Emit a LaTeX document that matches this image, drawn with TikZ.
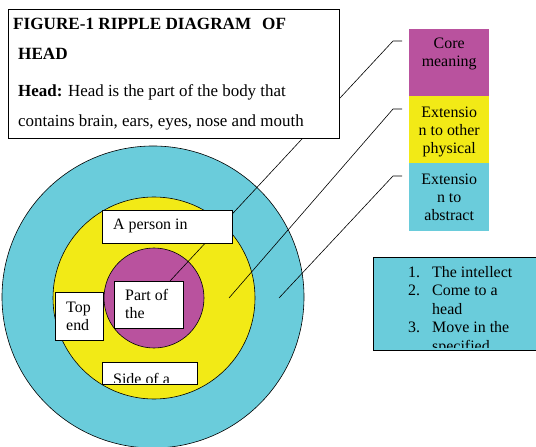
\documentclass[tikz,border=0pt]{standalone}
\usepackage{fontspec}
\setmainfont{Liberation Serif}
\usepackage{tikz}
\usepackage{xcolor}
\usetikzlibrary{positioning}

\definecolor{coremag}{RGB}{185,82,158}
\definecolor{physyel}{RGB}{242,234,22}
\definecolor{abscyan}{RGB}{106,204,219}

\tikzset{
    ring/.style={draw, circle, line width=0.6bp, inner sep=0pt},
    wbox/.style={draw, line width=0.6bp, fill=white, inner sep=0pt, anchor=north west},
    cbox/.style={inner sep=0pt, anchor=north west, minimum width=80bp},
    txt/.style={inner sep=0pt, anchor=base west, align=left, font=\fontsize{16}{17.5}\selectfont},
    ctxt/.style={inner sep=0pt, anchor=north, align=center, font=\fontsize{16}{18}\selectfont},
    lead/.style={line width=0.6bp}
}

\begin{document}
\begin{tikzpicture}[x=1bp, y=-1bp]
            \useasboundingbox (0,0) rectangle (536,447);

            % the three rings
            \node[ring, fill=abscyan, minimum size=302bp] (outer)  at (153,297) {};
            \node[ring, fill=physyel, minimum size=202bp] (middle) at (154,298) {};
            \node[ring, fill=coremag, minimum size=100bp] (inner)  at (154,298) {};

            % key on the right
            \node[cbox, fill=coremag, minimum height=67bp] (core)     at (409,29)  {};
            \node[cbox, fill=physyel, minimum height=67bp] (physical) at (409,96)  {};
            \node[cbox, fill=abscyan, minimum height=68bp] (abstract) at (409,163) {};
            \node[ctxt, below=9bp of core.north]      (coretext)     {Core\\meaning};
            \node[ctxt, below=11bp of physical.north] (physicaltext) {Extensio\\n to other\\physical};
            \node[ctxt, below=11bp of abstract.north] (abstracttext) {Extensio\\n to\\abstract};

            \coordinate (coretip)     at (402,41);
            \coordinate (physicaltip) at (402,109);
            \coordinate (abstracttip) at (402,176);
            \coordinate (coredot)     at (170,281);
            \coordinate (physicaldot) at (229,298);
            \coordinate (abstractdot) at (279,298);

            \draw[lead] (coretip) -- ++(-9,0) -- (coredot);
            \draw[lead] (physicaltip) -- ++(-9,0) -- (physicaldot);
            \draw[lead] (abstracttip) -- ++(-9,0) -- (abstractdot);

            % title and definition
            \node[wbox, minimum width=331bp, minimum height=129bp] (title) at (8,9) {};
            \node[txt, font=\fontsize{17.2}{18}\selectfont\bfseries] (titleline) at (13,30) {FIGURE-1 RIPPLE DIAGRAM\hspace{11bp}OF};
            \node[txt, font=\fontsize{17.2}{18}\selectfont\bfseries] (titlehead) at (18,60) {HEAD};
            \node[txt, font=\fontsize{17}{18}\selectfont] (defline)  at (18,97)  {\textbf{Head:} Head is the part of the body that};
            \node[txt, font=\fontsize{17}{18}\selectfont] (defline2) at (18,127) {contains brain, ears, eyes, nose and mouth};

            % labels on the rings
            \node[wbox, minimum width=130bp, minimum height=33bp] (person) at (102,210) {};
            \node[txt] (persontext) at (113,230) {A person in};

            \node[wbox, minimum width=69bp, minimum height=47bp] (part) at (114,281) {};
            \node[txt] (parttext) at (125,318) {Part of\\the};

            \node[wbox, minimum width=48bp, minimum height=48bp] (topend) at (55,292) {};
            \node[txt] (topendtext) at (66,330) {Top\\end};

            \node[wbox, minimum width=95bp, minimum height=22bp] (side) at (102,362) {};
            \begin{scope}
                \clip (side.north west) rectangle ([yshift=2bp]side.south east);
                \node[txt] (sidetext) at (113,384) {Side of a};
            \end{scope}

            % abstract senses
            \node[wbox, fill=abscyan, minimum width=165bp, minimum height=93bp] (senses) at (373,257) {};
            \begin{scope}
                \clip (senses.north west) rectangle ([yshift=3bp]senses.south east);
                \node[txt, font=\fontsize{16}{18.5}\selectfont] (sensestext) at (408,351)
                    {\makebox[24bp][l]{1.}The intellect\\
                     \makebox[24bp][l]{2.}Come to a\\
                     \hspace*{24bp}head\\
                     \makebox[24bp][l]{3.}Move in the\\
                     \hspace*{24bp}specified};
            \end{scope}
\end{tikzpicture}
\end{document}
